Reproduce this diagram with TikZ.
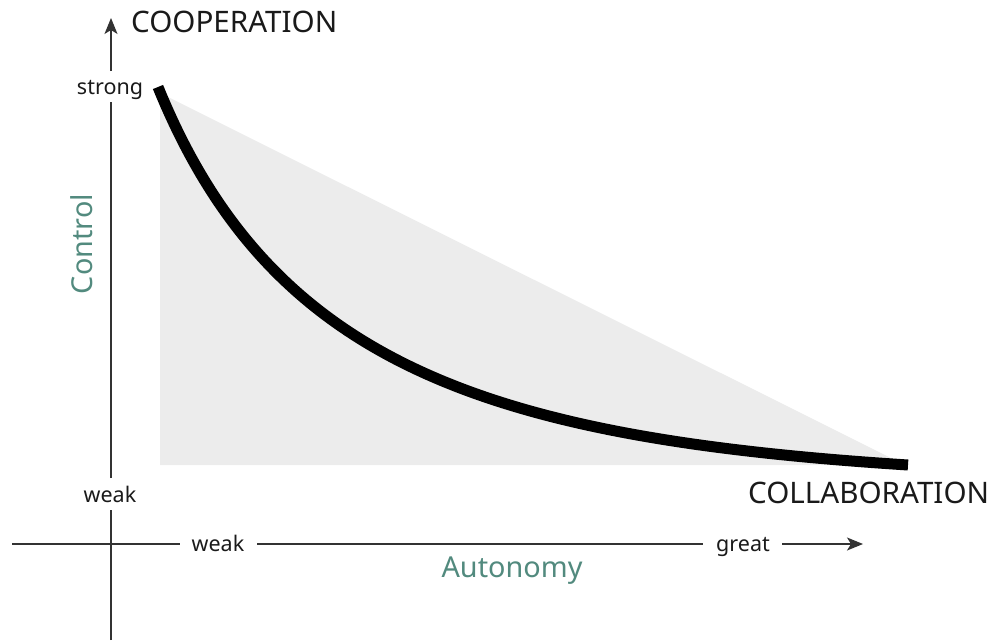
\documentclass[tikz,border=0pt]{standalone}
\usepackage{fontspec}
\setmainfont{Noto Sans}
\usetikzlibrary{arrows.meta}
\definecolor{axisc}{HTML}{333333}
\definecolor{labelteal}{HTML}{528A7E}
\definecolor{areagray}{HTML}{ECECEC}
\definecolor{textc}{HTML}{1A1A1A}
\begin{document}
\begin{tikzpicture}[x=1pt,y=-1pt,
  axis/.style={draw=axisc, line width=1.4pt},
  arr/.style={-{Stealth[length=16pt,width=13pt,inset=4pt]}},
  tick/.style={font=\fontsize{21.5}{25}\selectfont, text=textc, inner sep=0pt, anchor=base},
  big/.style={font=\fontsize{29.6}{34}\selectfont, text=textc, inner sep=0pt, anchor=base west},
  dimlabel/.style={font=\fontsize{28.8}{33}\selectfont, text=labelteal, inner sep=0pt, anchor=base},
  curve/.style={line width=11pt, line cap=butt, black}]
\useasboundingbox (0,0) rectangle (992,640);
% shaded region
\fill[areagray] (160,93) -- (160,465) -- (905,465) -- cycle;
% labels
\node[tick] (strong) at (110,94) {strong};
\node[tick] (weaky) at (110,502) {weak};
\node[tick] (weakx) at (218,551) {weak};
\node[tick] (great) at (743,551) {great};
\node[big] (coop) at (131,32) {COOPERATION};
\node[big] (collab) at (748,503) {COLLABORATION};
\node[dimlabel] (auton) at (512,577) {Autonomy};
\node[dimlabel, rotate=90] (ctrl) at (92,244) {Control};
% axis coordinates
\coordinate (ybot) at (111,640);
\coordinate (ytop) at (111,18);
\coordinate (ya) at (111,510);
\coordinate (yb) at (111,478);
\coordinate (yc) at (111,102);
\coordinate (yd) at (111,71);
\coordinate (xl) at (12,544);
\coordinate (xa) at (180,544);
\coordinate (xb) at (257,544);
\coordinate (xc) at (703,544);
\coordinate (xd) at (782,544);
\coordinate (xr) at (863,544);
% vertical axis
\draw[axis] (ybot) -- (ya);
\draw[axis] (yb) -- (yc);
\draw[axis, arr] (yd) -- (ytop);
% horizontal axis
\draw[axis] (xl) -- (xa);
\draw[axis] (xb) -- (xc);
\draw[axis, arr] (xd) -- (xr);
% curve
\coordinate (c0) at (158,87);
\coordinate (c3) at (908,465);
\draw[curve] (c0) .. controls (271,365) and (488,438) .. (c3);
\end{tikzpicture}
\end{document}
